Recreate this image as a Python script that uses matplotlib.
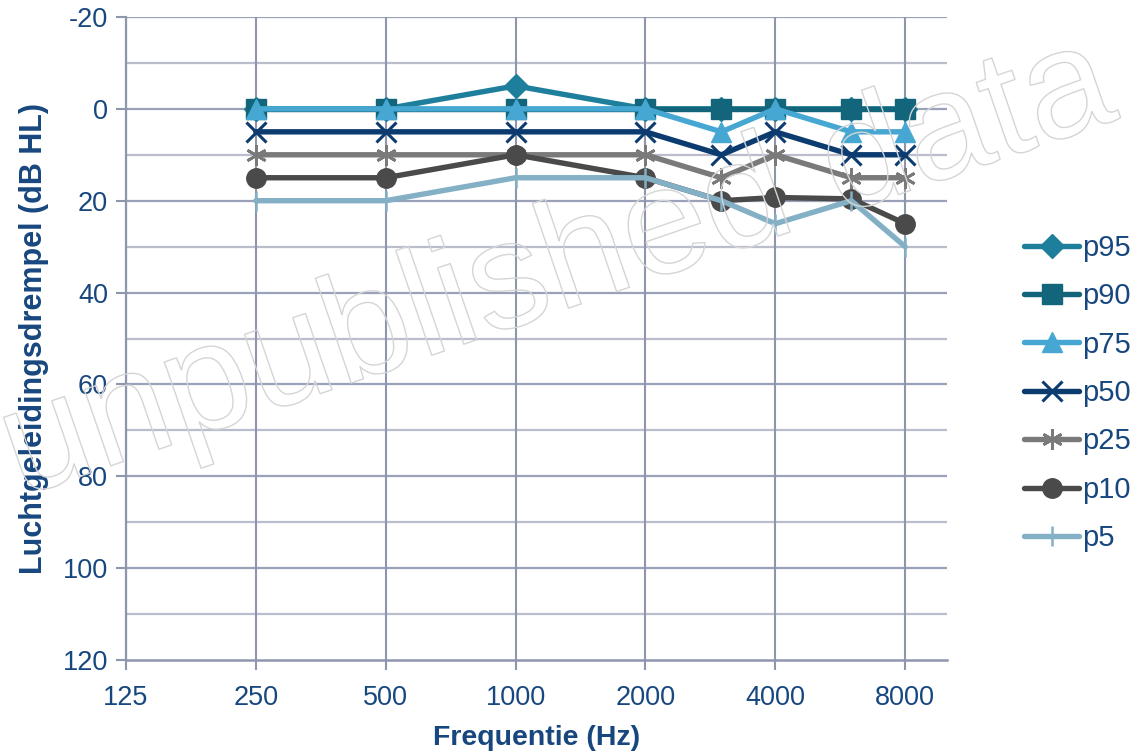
import matplotlib
matplotlib.use("Agg")
import matplotlib.pyplot as plt
import matplotlib.patheffects as pe
from matplotlib.ticker import FixedLocator, NullLocator

plt.rcParams['font.family'] = ['Liberation Sans', 'DejaVu Sans']
plt.rcParams['axes.unicode_minus'] = False

freqs = [250, 500, 1000, 2000, 3000, 4000, 6000, 8000]
p95 = [0, 0, -5, 0, 0, 0, 0, 0]
p90 = [0, 0, 0, 0, 0, 0, 0, 0]
p75 = [0, 0, 0, 0, 5, 0, 5, 5]
p50 = [5, 5, 5, 5, 10, 5, 10, 10]
p25 = [10, 10, 10, 10, 15, 10, 15, 15]
p10 = [15, 15, 10, 15, 20, 19.3, 19.6, 25]
p5 = [20, 20, 15, 15, 20, 25, 20, 30]

series_names = ['p95', 'p90', 'p75', 'p50', 'p25', 'p10', 'p5']
series_vals = [p95, p90, p75, p50, p25, p10, p5]

x_ticks = [125, 250, 500, 1000, 2000, 4000, 8000]
x_ticklabels = ['125', '250', '500', '1000', '2000', '4000', '8000']
y_ticks = [-20, 0, 20, 40, 60, 80, 100, 120]
y_grid = [-20, -10, 0, 10, 20, 30, 40, 50, 60, 70, 80, 90, 100, 110]

styles = {
    'p95': dict(color='#1E7F9C', marker='D', ms=12),
    'p90': dict(color='#12657B', marker='s', ms=14),
    'p75': dict(color='#46A7D2', marker='^', ms=15),
    'p50': dict(color='#0C3B70', marker='x', ms=14, mew=2.2),
    'p25': dict(color='#7A7A7A', marker=(6, 2, 0), ms=15, mew=2),
    'p10': dict(color='#4A4A4A', marker='o', ms=14),
    'p5':  dict(color='#84B0C6', marker='|', ms=15, mew=1.8),
}

label_color = '#17477E'

fig = plt.figure(figsize=(11.38, 7.52), dpi=100)
ax = fig.add_axes([126/1138, 1-660/752, (947-126)/1138, (660-17)/752])

ax.set_xscale('log', base=2)
ax.set_xlim(125, 10000)
ax.set_ylim(120, -20)

# gridlines
for yv in y_grid:
    c = '#9AA1B8' if yv % 20 == 0 else '#B9BDCC'
    ax.axhline(yv, color=c, lw=1.6, zorder=1)
for xv in x_ticks:
    ax.axvline(xv, color='#8E96AE', lw=1.5, zorder=1)

for name, vals in zip(series_names, series_vals):
    st = styles[name]
    ax.plot(freqs, vals, color=st['color'], lw=3.9, marker=st['marker'],
            ms=st['ms'], mew=st.get('mew', 1), mfc=st['color'], mec=st['color'],
            label=name, zorder=3, solid_capstyle='round')

ax.xaxis.set_major_locator(FixedLocator(x_ticks))
ax.set_xticklabels(x_ticklabels)
ax.xaxis.set_minor_locator(NullLocator())
ax.set_yticks(y_ticks)
ax.yaxis.set_minor_locator(NullLocator())

for s in ['top', 'right']:
    ax.spines[s].set_visible(False)
ax.spines['left'].set_color('#8E96AE')
ax.spines['bottom'].set_color('#8E96AE')
ax.spines['left'].set_linewidth(1.6)
ax.spines['bottom'].set_linewidth(1.8)

ax.tick_params(axis='both', colors='#8E96AE', labelcolor=label_color,
               labelsize=19.5, length=7, width=1.5)
ax.tick_params(axis='x', pad=11)
ax.tick_params(axis='y', pad=6)

ax.set_xlabel('Frequentie (Hz)', fontsize=20.5, fontweight='bold',
              color=label_color, labelpad=10)
ax.set_ylabel('Luchtgeleidingsdrempel (dB HL)', fontsize=22, fontweight='bold',
              color=label_color, labelpad=10)

leg = fig.legend(loc='center left', bbox_to_anchor=(1024/1138, 1-393/752),
                 frameon=False, fontsize=21, handlelength=1.9,
                 handletextpad=0.1, labelspacing=0.7, borderpad=0,
                 borderaxespad=0)
for t in leg.get_texts():
    t.set_color(label_color)

# watermark
fig.text(0.49, 0.64, 'unpublished data', fontsize=110, rotation=19,
         ha='center', va='center', color=(1, 1, 1, 0), zorder=10,
         path_effects=[pe.withStroke(linewidth=1.0, foreground='#D5D5D5')])

fig.savefig('out.png', dpi=100)
